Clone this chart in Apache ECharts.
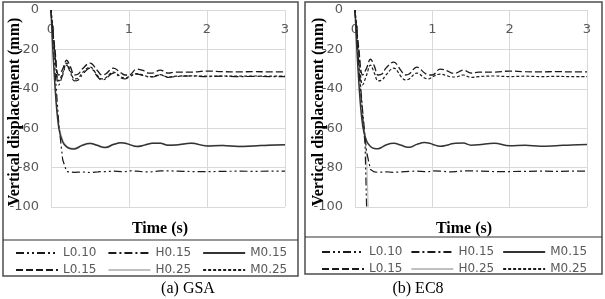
<!DOCTYPE html>
<html>
<head>
<meta charset="utf-8">
<script src="https://cdn.jsdelivr.net/npm/echarts@6/dist/echarts.min.js"></script>
<style>
  html, body { margin: 0; padding: 0; background: #fff; }
  #chart { width: 605px; height: 299px; }
</style>
</head>
<body>
<div id="chart"></div>
<script>
// time steps (s)
const time = [0, 0.05, 0.1, 0.15, 0.2, 0.25, 0.3, 0.35, 0.4, 0.5, 0.6, 0.65, 0.7, 0.8, 0.9, 0.95,
  1.0, 1.1, 1.2, 1.25, 1.3, 1.4, 1.5, 1.6, 1.8, 2.0, 2.2, 2.4, 2.6, 2.8, 3.0]

const xTicks = [0, 1, 2, 3]
const yTicks = [0, -20, -40, -60, -80, -100]

// (a) GSA, vertical displacement (mm)
const gsaL010 = [0, -30, -58, -76, -82, -82.3, -82.4, -82.3, -82.2, -82.5, -82.2, -82, -82, -81.8, -82, -82.1,
  -81.6, -81.8, -82.2, -82.2, -82.1, -81.7, -81.6, -81.8, -82, -82.1, -81.9, -81.8, -81.9, -81.8, -81.8]
const gsaL015 = [0, -20, -33, -30, -25.5, -29, -33, -32.5, -30, -27, -31, -33, -32.5, -29.5, -32, -33,
  -33, -30, -31, -32, -32, -30.5, -32, -31.5, -31.5, -31, -31.3, -31.4, -31.3, -31.4, -31.4]
const gsaH015 = [0, -22, -38, -33, -28, -32, -36, -35.5, -33, -29.5, -34, -35.5, -35, -32, -34.5, -35,
  -34, -32.5, -33.5, -34, -34, -33, -34.2, -33.8, -33.5, -33.8, -33.6, -33.8, -33.7, -33.8, -33.8]
const gsaH025 = [0, -36, -58, -66, -69, -70, -70.2, -69.5, -68.5, -67.6, -68.6, -69.3, -69.6, -68.1, -67.3, -67.5,
  -68, -69.1, -68.4, -67.9, -67.6, -67.5, -68.5, -68.4, -67.6, -68.8, -68.7, -69.1, -68.9, -68.5, -68.3]
const gsaM015 = [0, -38, -60, -67, -69.5, -70.4, -70.5, -69.8, -68.7, -67.8, -68.8, -69.5, -69.8, -68.3, -67.4, -67.6,
  -68.2, -69.3, -68.6, -68, -67.7, -67.6, -68.7, -68.5, -67.7, -69, -68.8, -69.3, -69, -68.6, -68.4]
const gsaM025 = [0, -21, -36, -32, -27, -31, -35, -34.5, -32, -29, -33.5, -35, -34.5, -31.5, -34, -34.5,
  -33.8, -32.3, -33.3, -33.8, -33.8, -32.8, -34, -33.6, -33.4, -33.6, -33.5, -33.6, -33.5, -33.6, -33.6]

// (b) EC8
const ec8L010Time = [0, 0.05, 0.1, 0.13, 0.15]
const ec8L010 = [0, -30, -55, -68, -100]
const ec8H025Time = [0, 0.05, 0.1, 0.15, 0.17]
const ec8H025 = [0, -28, -52, -75, -100]
const ec8L015 = [0, -20, -33, -29.5, -25, -28.5, -33, -32.5, -29.5, -26.5, -31, -33, -32.5, -29, -32, -33,
  -33, -30, -31, -32, -32, -30.5, -32, -31.5, -31.5, -31, -31.3, -31.4, -31.3, -31.4, -31.4]
const ec8H015 = [0, -28, -52, -72, -81, -82.2, -82.4, -82.3, -82.1, -82.4, -82.2, -82, -81.9, -81.8, -82, -82.1,
  -81.7, -81.8, -82.1, -82.2, -82, -81.7, -81.6, -81.8, -82, -82, -81.9, -81.8, -81.9, -81.8, -81.8]
const ec8M015 = [0, -37, -59, -66.5, -69.3, -70.3, -70.4, -69.6, -68.5, -67.7, -68.7, -69.4, -69.7, -68.2, -67.3, -67.5,
  -68.1, -69.2, -68.5, -67.9, -67.6, -67.5, -68.6, -68.4, -67.6, -68.9, -68.7, -69.2, -68.9, -68.5, -68.3]
const ec8M025 = [0, -22, -38, -33, -28, -32, -36, -35.5, -33, -29.5, -34, -35.5, -35, -32, -34.5, -35,
  -34, -32.5, -33.5, -34, -34, -33, -34.2, -33.8, -33.5, -33.8, -33.6, -33.8, -33.7, -33.8, -33.8]

const row1 = ['L0.10', 'H0.15', 'M0.15']
const row2 = ['L0.15', 'H0.25', 'M0.25']

const styles = {
  'L0.10': { color: '#1a1a1a', width: 1.2, type: [8, 3, 2, 3, 2, 3] },
  'L0.15': { color: '#1a1a1a', width: 1.3, type: [7, 3] },
  'H0.15': { color: '#1a1a1a', width: 1.2, type: [8, 3, 2, 3] },
  'H0.25': { color: '#c0c0c0', width: 1.2, type: 'solid' },
  'M0.15': { color: '#333333', width: 1.5, type: 'solid' },
  'M0.25': { color: '#1a1a1a', width: 1.2, type: [3, 2] }
}

function zip(xs, ys) {
  return xs.map((x, i) => [x, ys[i]])
}

function makeSeries(name, idx, xs, ys, smooth) {
  const s = styles[name]
  return {
    name: name,
    type: 'line',
    xAxisIndex: idx,
    yAxisIndex: idx,
    data: zip(xs, ys),
    symbol: 'none',
    smooth: smooth,
    clip: true,
    z: name === 'H0.25' ? 1 : 2,
    lineStyle: { color: s.color, width: s.width, type: s.type },
    itemStyle: { color: s.color }
  }
}

const labelFont = 'DejaVu Sans'
const serif = 'Liberation Serif'

function xAxisFor(idx) {
  return {
    gridIndex: idx,
    type: 'value',
    position: 'top',
    min: xTicks[0],
    max: xTicks[xTicks.length - 1],
    interval: 1,
    axisLine: { show: false },
    axisTick: { show: false },
    axisLabel: { inside: true, margin: 13, color: '#595959', fontSize: 13, fontFamily: labelFont },
    splitLine: { show: true, lineStyle: { color: '#d9d9d9', width: 1 } }
  }
}

function yAxisFor(idx) {
  return {
    gridIndex: idx,
    type: 'value',
    min: yTicks[yTicks.length - 1],
    max: yTicks[0],
    interval: 20,
    axisLine: { show: false },
    axisTick: { show: false },
    axisLabel: { margin: 12, color: '#595959', fontSize: 13, fontFamily: labelFont },
    splitLine: { show: true, lineStyle: { color: '#d9d9d9', width: 1 } }
  }
}

function legendFor(data, left, top, gap) {
  return {
    data: data,
    left: left,
    top: top,
    orient: 'horizontal',
    itemWidth: 42,
    itemHeight: 14,
    itemGap: gap,
    selectedMode: false,
    itemStyle: { opacity: 0 },
    textStyle: { color: '#595959', fontSize: 12, fontFamily: labelFont, width: 44, padding: [0, 0, 0, 0] }
  }
}

const titleFont = 'bold 16px "' + serif + '"'

const chart = echarts.init(document.getElementById('chart'))

const option = {
  backgroundColor: '#fff',
  animation: false,
  grid: [
    { left: 51, top: 10, width: 234, height: 197 },
    { left: 355, top: 10, width: 232, height: 197 }
  ],
  xAxis: [xAxisFor(0), xAxisFor(1)],
  yAxis: [yAxisFor(0), yAxisFor(1)],
  legend: [
    legendFor(row1, 10, 242, 11),
    legendFor(row2, 10, 259, 11),
    legendFor(row1, 316, 241, 8),
    legendFor(row2, 316, 258, 8)
  ],
  series: [
    makeSeries('H0.25', 0, time, gsaH025, 0.4),
    makeSeries('L0.10', 0, time, gsaL010, false),
    makeSeries('L0.15', 0, time, gsaL015, 0.4),
    makeSeries('H0.15', 0, time, gsaH015, 0.4),
    makeSeries('M0.15', 0, time, gsaM015, 0.4),
    makeSeries('M0.25', 0, time, gsaM025, 0.4),

    makeSeries('H0.25', 1, ec8H025Time, ec8H025, false),
    makeSeries('L0.10', 1, ec8L010Time, ec8L010, false),
    makeSeries('L0.15', 1, time, ec8L015, 0.4),
    makeSeries('H0.15', 1, time, ec8H015, false),
    makeSeries('M0.15', 1, time, ec8M015, 0.4),
    makeSeries('M0.25', 1, time, ec8M025, 0.4)
  ],
  graphic: [
    // panel frames and legend boxes
    { type: 'rect', shape: { x: 3, y: 2, width: 295, height: 274 }, style: { fill: 'none', stroke: '#4d4d4d', lineWidth: 1.5 }, silent: true },
    { type: 'line', shape: { x1: 3, y1: 240, x2: 298, y2: 240 }, style: { stroke: '#333', lineWidth: 1.2 }, silent: true },
    { type: 'rect', shape: { x: 305, y: 2, width: 297, height: 272 }, style: { fill: 'none', stroke: '#4d4d4d', lineWidth: 1.5 }, silent: true },
    { type: 'line', shape: { x1: 305, y1: 237, x2: 602, y2: 237 }, style: { stroke: '#333', lineWidth: 1.2 }, silent: true },
    // axis titles
    { type: 'text', x: 15, y: 112, rotation: Math.PI / 2, style: { text: 'Vertical displacement (mm)', font: titleFont, fill: '#000', align: 'center', verticalAlign: 'middle' }, z: 10 },
    { type: 'text', x: 319, y: 112, rotation: Math.PI / 2, style: { text: 'Vertical displacement (mm)', font: titleFont, fill: '#000', align: 'center', verticalAlign: 'middle' }, z: 10 },
    { type: 'text', x: 160, y: 229, style: { text: 'Time (s)', font: titleFont, fill: '#000', align: 'center', verticalAlign: 'middle' } },
    { type: 'text', x: 464, y: 229, style: { text: 'Time (s)', font: titleFont, fill: '#000', align: 'center', verticalAlign: 'middle' } },
    // captions
    { type: 'text', x: 188, y: 289, style: { text: '(a) GSA', font: '16px "' + serif + '"', fill: '#000', align: 'center', verticalAlign: 'middle' } },
    { type: 'text', x: 418, y: 289, style: { text: '(b) EC8', font: '16px "' + serif + '"', fill: '#000', align: 'center', verticalAlign: 'middle' } }
  ]
}

chart.setOption(option)
</script>
</body>
</html>
